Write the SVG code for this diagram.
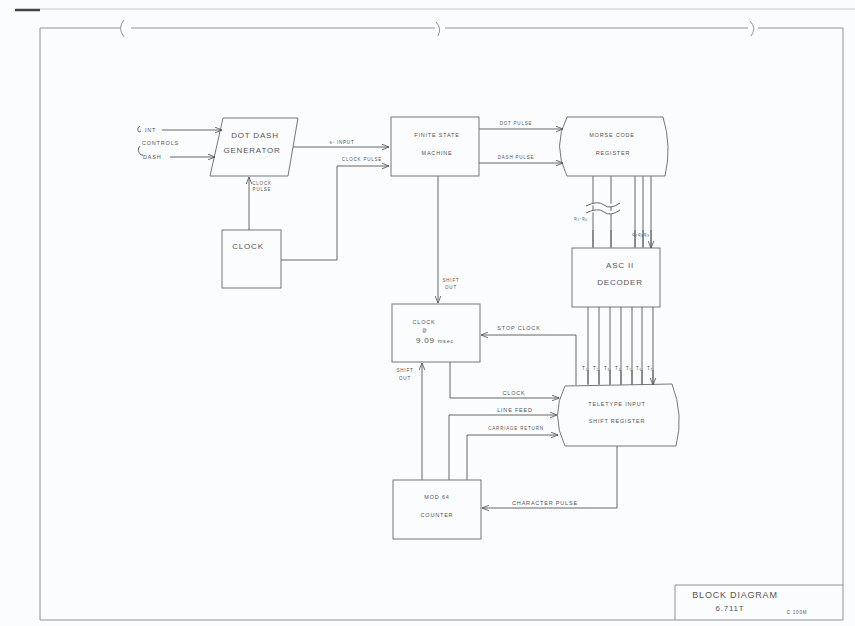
<svg xmlns="http://www.w3.org/2000/svg" width="855" height="626" viewBox="0 0 855 626">
<defs>
<style>
.bg{fill:#fbfcfd}
.ln{fill:none;stroke:#666;stroke-width:1}
.bx{fill:none;stroke:#777;stroke-width:1}
.pg{fill:none;stroke:#888;stroke-width:0.9}
.t{font-family:"Liberation Sans",Arial,sans-serif;fill:#555;text-anchor:middle;letter-spacing:0.8px}
.m{font-size:8px}
.s{font-size:5.5px}
.xs{font-size:4.5px}
</style>
<marker id="a" viewBox="0 0 10 10" refX="10" refY="5" markerWidth="7" markerHeight="7" orient="auto" markerUnits="userSpaceOnUse">
<path d="M0,1 L10,5 L0,9" fill="none" stroke="#555" stroke-width="1.2"/>
</marker>
</defs>
<rect class="bg" x="0" y="0" width="855" height="626"/>
<g id="page">
<path d="M15 10 H40" stroke="#444" stroke-width="2.5"/>
<path d="M40 9 H855" stroke="#bbb" stroke-width="0.8"/>
<path class="pg" d="M40 620 V28 H120 M131 28 H435 M445 28 H748 M758 28 H843 V620 H40"/>
<path class="pg" d="M124 20 Q117 28 124 37 M436 22 Q442 28 438 36 M750 21 Q757 28 751 36"/>
</g>
<g id="inputs">
<path class="ln" d="M140 126 q-4 3 -1 6 M139 132 l2 -1 M140 146 q-4 4 1 9 M141 155 l2 0"/>
<text class="t s" x="145" y="132" style="text-anchor:start">INT</text>
<text class="t s" x="142" y="145" style="text-anchor:start">CONTROLS</text>
<text class="t s" x="143" y="159" style="text-anchor:start">DASH</text>
</g>
<g id="dotdash">
<path class="bx" d="M223 118 H298 L288 176 H210 Z"/>
<text class="t m" x="255" y="138">DOT DASH</text>
<text class="t m" x="252" y="153">GENERATOR</text>
</g>
<g id="clock1">
<rect class="bx" x="222" y="230" width="59" height="58"/>
<text class="t m" x="248" y="249">CLOCK</text>
</g>
<g id="fsm">
<rect class="bx" x="391" y="117" width="88" height="59"/>
<text class="t s" x="437" y="137">FINITE STATE</text>
<text class="t s" x="437" y="155">MACHINE</text>
</g>
<g id="morse">
<path class="bx" d="M567 117 H663 Q672 146 665 176 H567 Q552 146 567 117 Z"/>
<text class="t s" x="612" y="137">MORSE CODE</text>
<text class="t s" x="613" y="155">REGISTER</text>
</g>
<g id="ascii">
<rect class="bx" x="572" y="248" width="88" height="59"/>
<text class="t m" x="620" y="268">ASC II</text>
<text class="t m" x="620" y="285">DECODER</text>
</g>
<g id="clock2">
<rect class="bx" x="392" y="304" width="88" height="58"/>
<text class="t s" x="424" y="324">CLOCK</text>
<text class="t xs" x="425" y="332">@</text>
<text class="t m" x="435" y="343">9.09 <tspan font-size="5.5">msec</tspan></text>
</g>
<g id="teletype">
<path class="bx" d="M565 386 L672 384 Q684 415 676 446 H565 Q550 415 565 386 Z"/>
<text class="t s" x="617" y="406">TELETYPE INPUT</text>
<text class="t s" x="617" y="423">SHIFT REGISTER</text>
</g>
<g id="mod64">
<rect class="bx" x="393" y="480" width="88" height="59"/>
<text class="t s" x="437" y="499">MOD 64</text>
<text class="t s" x="437" y="517">COUNTER</text>
</g>
<g id="title">
<path class="pg" d="M675 620 V585 H843"/>
<text class="t" x="735" y="598" font-size="9">BLOCK DIAGRAM</text>
<text class="t" x="730" y="611" font-size="8">6.711T</text>
<text class="t xs" x="797" y="614">C 100M</text>
</g>
<g id="connectors">
<path class="ln" d="M162 130 H222" marker-end="url(#a)"/>
<path class="ln" d="M170 157 H215" marker-end="url(#a)"/>
<path class="ln" d="M293 147 H389" marker-end="url(#a)"/>
<text class="t xs" x="342" y="144">s- INPUT</text>
<path class="ln" d="M249 230 V177" marker-end="url(#a)"/>
<text class="t xs" x="262" y="185">CLOCK</text>
<text class="t xs" x="262" y="191">PULSE</text>
<path class="ln" d="M281 260 H337 V166 H389" marker-end="url(#a)"/>
<text class="t xs" x="362" y="161">CLOCK PULSE</text>
<path class="ln" d="M479 129 H563" marker-end="url(#a)"/>
<text class="t xs" x="516" y="125">DOT PULSE</text>
<path class="ln" d="M479 163 H563" marker-end="url(#a)"/>
<text class="t xs" x="516" y="159">DASH PULSE</text>
<path class="ln" d="M593 176 V247 M611 176 V247 M635 176 V247 M643 176 V247 M651 176 V247"/>
<path class="ln" d="M593 230 V248 M611 230 V248 M635 230 V248 M643 230 V248 M651 230 V248" marker-end="url(#a)"/>
<path d="M586 206 q12 -6 18 -1 q6 5 16 -2 M586 213 q12 -6 18 -1 q6 5 16 -2" fill="#fbfcfd" stroke="#666" stroke-width="1"/>
<text class="t xs" x="581" y="220">q₁-q₆</text>
<text class="t xs" x="641" y="236">q₇q₈q₉</text>
<path class="ln" d="M588 307 V384 M599 307 V384 M610 307 V384 M621 307 V384 M632 307 V384 M642 307 V384 M653 307 V384"/>
<path class="ln" d="M588 370 V385 M599 370 V385 M610 370 V385 M621 370 V385 M632 370 V385 M642 370 V385 M653 370 V385" marker-end="url(#a)"/>
<text class="t xs" x="585" y="370">T₁</text>
<text class="t xs" x="596" y="370">T₂</text>
<text class="t xs" x="607" y="370">T₃</text>
<text class="t xs" x="618" y="370">T₄</text>
<text class="t xs" x="629" y="370">T₅</text>
<text class="t xs" x="639" y="370">T₆</text>
<text class="t xs" x="650" y="370">T₇</text>
<path class="ln" d="M438 176 V303" marker-end="url(#a)"/>
<text class="t xs" x="451" y="282">SHIFT</text>
<text class="t xs" x="451" y="289">OUT</text>
<path class="ln" d="M576 385 V335 H481" marker-end="url(#a)"/>
<text class="t s" x="519" y="330">STOP CLOCK</text>
<path class="ln" d="M450 362 V398 H559" marker-end="url(#a)"/>
<text class="t s" x="514" y="395">CLOCK</text>
<path class="ln" d="M449 480 V415 H557" marker-end="url(#a)"/>
<text class="t s" x="515" y="412">LINE FEED</text>
<path class="ln" d="M467 480 V435 H558" marker-end="url(#a)"/>
<text class="t xs" x="516" y="430">CARRIAGE RETURN</text>
<path class="ln" d="M422 480 V363" marker-end="url(#a)"/>
<text class="t xs" x="405" y="372">SHIFT</text>
<text class="t xs" x="405" y="380">OUT</text>
<path class="ln" d="M617 446 V508 H482" marker-end="url(#a)"/>
<text class="t s" x="545" y="505">CHARACTER PULSE</text>
</g>
</svg>
